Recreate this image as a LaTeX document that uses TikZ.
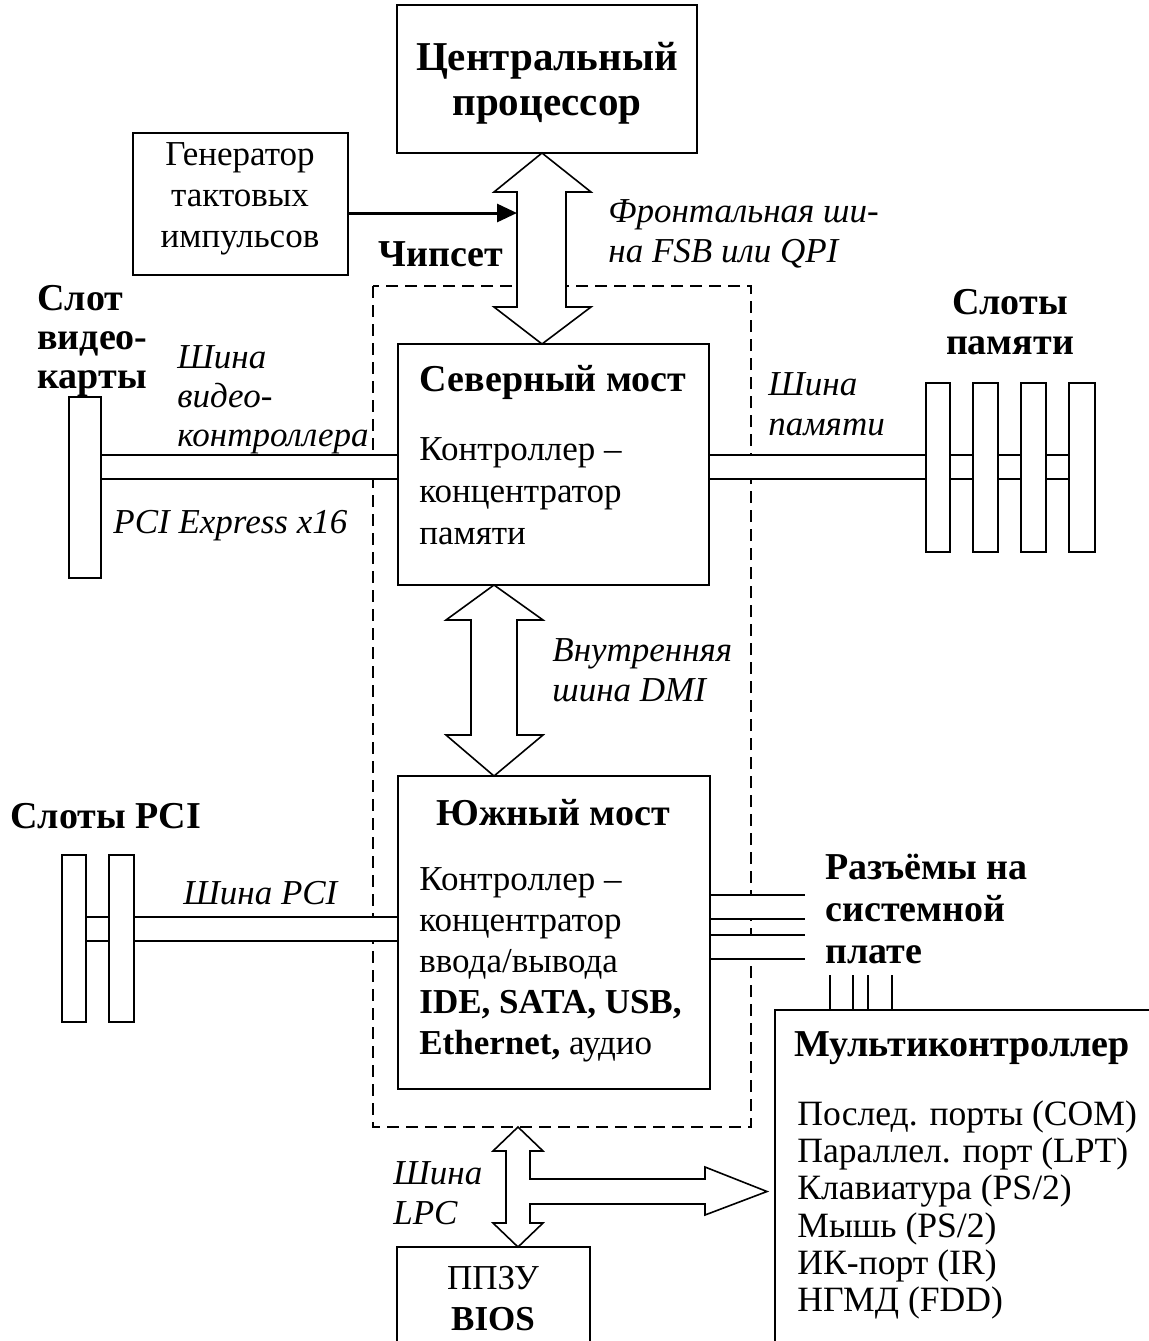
\documentclass[tikz,border=0pt]{standalone}
\usepackage{fontspec}
\setmainfont{Liberation Serif}
\usetikzlibrary{arrows.meta,fit}
\begin{document}
\begin{tikzpicture}[x=0.5pt,y=-0.5pt,
  box/.style={draw,line width=0.8pt,inner sep=0pt},
  slotbox/.style={draw,line width=1.2pt,inner sep=0pt,fill=white},
  rmtxt/.style={font=\fontsize{17.5}{20.5}\selectfont,inner sep=0pt},
  bftxt/.style={font=\fontsize{19}{20.5}\selectfont\bfseries,inner sep=0pt},
  ittxt/.style={font=\fontsize{17.5}{20}\selectfont\itshape,inner sep=0pt},
  bus/.style={line width=0.7pt},
  fat/.style={draw,fill=white,line width=0.8pt,line join=miter}]
\useasboundingbox (0,0) rectangle (1149,1341);
\clip (0,0) rectangle (1149,1341);

% chipset dashed frame
\draw[dash pattern=on 6pt off 3.5pt, line width=0.7pt] (373,286) rectangle (751,1127);
\node[bftxt,anchor=center] (chipset) at (441,254) {Чипсет};

% CPU
\node[box,line width=1.3pt,fit={(397,5)(697,153)}] (cpu) {};
\node[bftxt,font=\fontsize{20.5}{22.5}\selectfont\bfseries,align=center] (cput) at (547,83) {Центральный\\процессор};

% Clock generator
\node[box,line width=0.9pt,fit={(133,133)(348,275)}] (gen) {};
\node[rmtxt,align=center] (gent) at (240,199) {Генератор\\тактовых\\импульсов};

% FSB label
\node[ittxt,anchor=west,align=left] (fsbt) at (608,234) {Фронтальная ши-\\на FSB или QPI};

% North bridge
\node[box,fit={(398,344)(709,585)}] (nb) {};
\node[bftxt] (nbt) at (553,382) {Северный мост};
\node[rmtxt,anchor=west,align=left,font=\fontsize{17.5}{21}\selectfont] (nbb) at (419,491) {Контроллер –\\концентратор\\памяти};

% South bridge
\node[box,fit={(398,776)(710,1089)}] (sb) {};
\node[bftxt] (sbt) at (553,813) {Южный мост};
\node[rmtxt,anchor=west,align=left] (sbb) at (419,965) {Контроллер –\\концентратор\\ввода/вывода\\\textbf{IDE, SATA, USB,}\\\textbf{Ethernet,} аудио};

% Video slot
\node[bftxt,anchor=west,align=left,font=\fontsize{19}{19.5}\selectfont\bfseries] (vsl) at (37,341) {Слот\\видео-\\карты};
\node[ittxt,anchor=west,align=left,font=\fontsize{17.5}{19.5}\selectfont\itshape] (vbl) at (177,400) {Шина\\видео-\\контроллера};
\node[ittxt,anchor=west] (pcie) at (113,526) {PCI Express x16};
\node[slotbox,fit={(69,397)(101,578)}] (vslot) {};
\coordinate (vb1) at (0,455);
\coordinate (vb2) at (0,479);
\fill[white] (vslot.east |- vb1) rectangle (nb.west |- vb2);
\draw[bus] (vslot.east |- vb1) -- (nb.west |- vb1);
\draw[bus] (vslot.east |- vb2) -- (nb.west |- vb2);

% Memory slots
\node[bftxt,align=center,font=\fontsize{19}{20}\selectfont\bfseries] (msl) at (1010,322) {Слоты\\памяти};
\node[ittxt,anchor=west,align=left] (mbl) at (768,404) {Шина\\памяти};
\node[slotbox,fit={(926,383)(950,552)}] (ms1) {};
\node[slotbox,fit={(973,383)(998,552)}] (ms2) {};
\node[slotbox,fit={(1021,383)(1046,552)}] (ms3) {};
\node[slotbox,fit={(1069,383)(1095,552)}] (ms4) {};
\fill[white] (nb.east |- vb1) rectangle (ms1.west |- vb2);
\foreach \a/\b in {nb/ms1,ms1/ms2,ms2/ms3,ms3/ms4}{
  \draw[bus] (\a.east |- vb1) -- (\b.west |- vb1);
  \draw[bus] (\a.east |- vb2) -- (\b.west |- vb2);
}

% PCI slots
\node[bftxt,anchor=west] (psl) at (10,816) {Слоты PCI};
\node[ittxt,anchor=west] (pbl) at (183,893) {Шина PCI};
\node[slotbox,fit={(62,855)(86,1022)}] (ps1) {};
\node[slotbox,fit={(109,855)(134,1022)}] (ps2) {};
\coordinate (pb1) at (0,917);
\coordinate (pb2) at (0,941);
\fill[white] (ps2.east |- pb1) rectangle (sb.west |- pb2);
\foreach \a/\b in {ps1/ps2,ps2/sb}{
  \draw[bus] (\a.east |- pb1) -- (\b.west |- pb1);
  \draw[bus] (\a.east |- pb2) -- (\b.west |- pb2);
}

% Board connectors
\node[bftxt,anchor=west,align=left,font=\fontsize{19}{21}\selectfont\bfseries] (conl) at (825,909) {Разъёмы на\\системной\\плате};
\coordinate (c895) at (805,895);
\coordinate (c919) at (805,919);
\coordinate (c935) at (805,935);
\coordinate (c959) at (805,959);
\fill[white] (sb.east |- c895) rectangle (c919);
\fill[white] (sb.east |- c935) rectangle (c959);
\foreach \y in {895,919,935,959}{
  \draw[line width=1.1pt] (sb.east |- c\y) -- (c\y);
}

% Multicontroller
\node[box,fit={(775,1010)(1175,1370)}] (mc) {};
\foreach \x in {830,853,868,892}{
  \coordinate (st\x) at (\x,975);
  \draw[line width=1pt] (st\x) -- (st\x |- mc.north);
}
\node[bftxt] (mct) at (962,1048) {Мультиконтроллер};
\node[rmtxt,anchor=west,align=left,font=\fontsize{17.8}{18.6}\selectfont] (mcl) at (797,1210) {Послед. порты (COM)\\Параллел. порт (LPT)\\Клавиатура (PS/2)\\Мышь (PS/2)\\ИК-порт (IR)\\НГМД (FDD)};

% BIOS
\node[box,fit={(397,1247)(590,1380)}] (bios) {};
\node[rmtxt,align=center] (biost) at (493,1299) {ППЗУ\\\textbf{BIOS}};

% clock arrow
\coordinate (fsbin) at (517,213);
\draw[line width=1.5pt,-{Triangle[length=10pt,width=9pt]}] (gen.east |- fsbin) -- (fsbin);

% FSB fat double arrow
\draw[fat] (542,153) -- (591,192) -- (566,192) -- (566,307) -- (591,307) -- (542,344)
  -- (494,307) -- (517,307) -- (517,192) -- (494,192) -- cycle;

% DMI fat double arrow
\node[ittxt,anchor=west,align=left] (dmil) at (552,670) {Внутренняя\\шина DMI};
\draw[fat] (494,585) -- (543,620) -- (517,620) -- (517,735) -- (543,735) -- (494,776)
  -- (446,735) -- (471,735) -- (471,620) -- (446,620) -- cycle;

% LPC arrow with branch to multicontroller
\node[ittxt,anchor=west,align=left] (lpcl) at (393,1193) {Шина\\LPC};
\draw[fat] (518,1127) -- (543,1151) -- (530,1151) -- (530,1179) -- (705,1179) -- (705,1167)
  -- (767,1191.5) -- (705,1215) -- (705,1204) -- (530,1204) -- (530,1223) -- (543,1223)
  -- (518,1247) -- (493,1223) -- (506,1223) -- (506,1151) -- (493,1151) -- cycle;

\end{tikzpicture}
\end{document}
